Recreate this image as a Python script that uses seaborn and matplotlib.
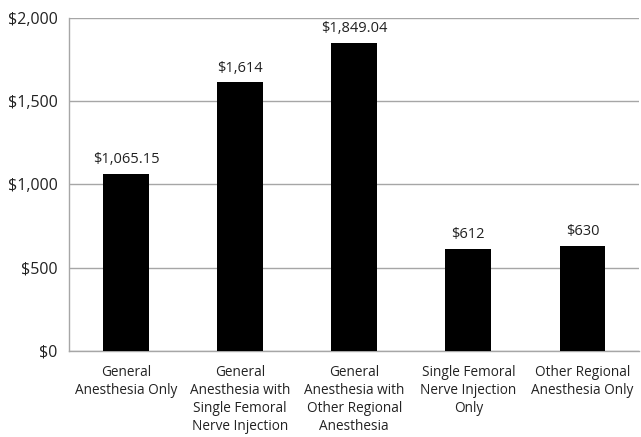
import matplotlib
matplotlib.use("Agg")
import matplotlib.pyplot as plt
import seaborn as sns
import pandas as pd
import numpy as np

categories = [
    "General\nAnesthesia Only",
    "General\nAnesthesia with\nSingle Femoral\nNerve Injection",
    "General\nAnesthesia with\nOther Regional\nAnesthesia",
    "Single Femoral\nNerve Injection\nOnly",
    "Other Regional\nAnesthesia Only",
]
costs = [1065.15, 1614, 1849.04, 612, 630]
cost_labels = ["$1,065.15", "$1,614", "$1,849.04", "$612", "$630"]
y_ticks = [0, 500, 1000, 1500, 2000]
y_tick_labels = ["$0", "$500", "$1,000", "$1,500", "$2,000"]

sns.set_style("white")
plt.rcParams['font.family'] = ['Open Sans', 'DejaVu Sans']

df = pd.DataFrame({"category": categories, "cost": costs})

fig = plt.figure(figsize=(6.41, 4.37), dpi=100)
ax = fig.add_axes([0.1076, 0.197, 0.89, 0.762])

sns.barplot(data=df, x="category", y="cost", color="black", width=0.4,
            saturation=1, ax=ax, zorder=3, linewidth=0)

for i, (v, lab) in enumerate(zip(costs, cost_labels)):
    ax.text(i, v + 40, lab, ha="center", va="bottom", fontsize=10.5, color="#222222")

grid_col = "#a6a6a6"
ax.set_ylim(0, 2000)
ax.set_xlim(-0.5, len(categories) - 0.5)
ax.set_yticks(y_ticks)
ax.set_yticklabels(y_tick_labels, fontsize=11.5, color="#222222")
ax.yaxis.grid(True, color=grid_col, linewidth=1, zorder=0)
ax.set_axisbelow(True)

ax.set_xticks(range(len(categories)))
ax.set_xticklabels(categories, fontsize=9.8, color="#222222", linespacing=1.28)
ax.set_xticks(np.arange(-0.5, len(categories)), minor=True)
ax.tick_params(axis="x", which="major", length=0, pad=10)
ax.tick_params(axis="x", which="minor", length=5, color=grid_col, width=1)
ax.tick_params(axis="y", length=5, color=grid_col, width=1, pad=3)

ax.set_xlabel("")
ax.set_ylabel("")
for s in ["top", "right"]:
    ax.spines[s].set_visible(False)
for s in ["left", "bottom"]:
    ax.spines[s].set_color(grid_col)
    ax.spines[s].set_linewidth(1)

fig.savefig("out.png", dpi=100, facecolor="white")
